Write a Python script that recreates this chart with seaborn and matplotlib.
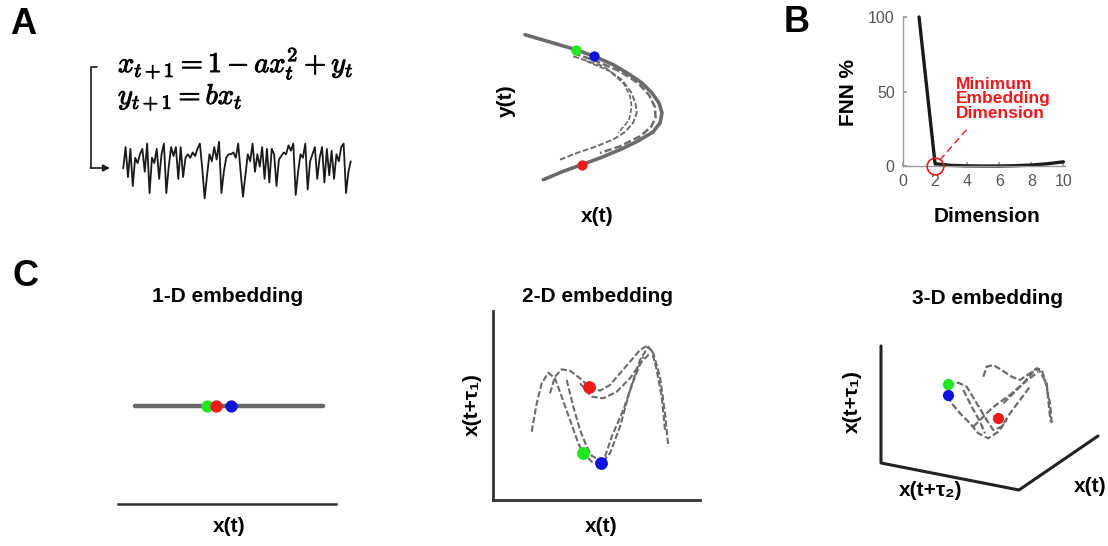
import numpy as np
import seaborn as sns
import matplotlib.pyplot as plt
import matplotlib.patheffects as pe

sns.set_theme(style="white")
plt.rcParams['font.family'] = ['Liberation Sans', 'DejaVu Sans']
plt.rcParams['mathtext.fontset'] = 'cm'
plt.rcParams['text.color'] = 'black'

W, H = 1108, 546
GRAY = '#6b6b6b'
GREEN = '#22e622'
BLUE = '#0b12dc'
RED = '#ec1a1a'

# ---- dados ----
# serie temporal x(t) do mapa de Henon (painel A)
serie_x = [0.07, 1.03, -0.32, 0.95, -0.72, 0.55, 0.31, 0.71, 0.95, -0.08, 1.19, -1.04,
           0.55, 0.31, 0.95, -0.40, 0.71, 1.19, -1.04, 0.15, 1.03, 0.63, 1.03, -0.40,
           1.03, -0.32, 0.55, 0.71, 0.55, 0.79, 0.63, 0.95, 1.19, 0.07, -1.28, -0.24,
           0.71, 0.39, 1.03, 0.47, 1.27, -1.04, -0.08, 0.55, 0.71, 0.71, 0.79, 0.55,
           1.19, -0.08, -1.20, -0.24, 0.71, 0.39, 1.19, -0.08, 0.71, 0.15, 1.03, -0.40,
           0.95, -0.56, 0.95, 0.71, -0.72, 0.47, 0.63, 0.79, 0.71, 1.11, 0.87, 1.19,
           -1.12, -0.08, 0.71, 0.55, 1.19, -0.88, 0.39, 0.71, 1.03, -0.40, 0.55, 1.03,
           -0.56, 0.95, -0.24, 0.87, -0.40, 0.71, 0.39, 1.03, 1.19, -1.04, -0.08, 0.39]

# atrator (painel A), unidades arbitrarias
atr_ext_x = [5, 33.3, 56, 74, 93.3, 110, 122, 132, 139, 142, 140, 133, 118, 100, 80, 61.7, 43.3, 23.3]
atr_ext_y = [158.3, 150, 143.3, 136.7, 128.3, 118.3, 110, 100, 90, 80, 70, 61, 52, 43.3, 35, 28.3, 21.7, 13.3]
atr_ext2_x = [53.3, 76.7, 100, 118, 129, 135, 135.5, 131, 120, 100, 80]
atr_ext2_y = [140, 131.7, 121.7, 110, 98, 86, 75, 66, 56.7, 46.7, 40]
atr_int_x = [53.3, 83.3, 101.7, 111, 115.5, 116.7, 113, 105, 94, 76.7, 56.7, 40]
atr_int_y = [136.7, 126.7, 113.3, 101, 90, 80, 70, 61, 54, 46.7, 40, 33.3]
atr_int2_x = [66.7, 90, 104, 110, 111.7, 109, 98.3]
atr_int2_y = [131.7, 121.7, 109, 97, 86, 73, 60]
atr_pts_x = [56, 74, 61.7]
atr_pts_y = [143.3, 136.7, 28.3]

# falsos vizinhos mais proximos (painel B)
dimensao = [1, 2, 3, 4, 5, 6, 7, 8, 9, 10]
fnn = [100, 1.5, 0.4, 0.1, 0.0, 0.0, 0.2, 0.6, 1.5, 2.8]
dim_minima = 2

# imersao 1-D
emb1_x = [-0.30, -0.18, 0.02]
linha1_x = [-1.28, 1.27]

# imersao 2-D
c2a_x = [11.7, 16.7, 21.7, 28.3, 35, 41.7, 50, 58.3, 63.3, 71.7, 81.7, 90, 100, 110, 120, 128.3, 133.3, 140, 145, 148.3]
c2a_y = [48.3, 76.7, 96.7, 107.3, 101.7, 83.3, 60, 36.7, 26.7, 18.3, 16.7, 26.7, 53.3, 90, 120, 133.3, 126.7, 103.3, 66.7, 33.3]
c2b_x = [30, 35, 41.7, 50, 60, 70, 80, 90, 100, 110, 120, 126.7, 131.7, 136.7, 141.7, 145]
c2b_y = [86.7, 103.3, 110.7, 109.3, 101.7, 92.7, 89.3, 95, 106.7, 118.3, 130, 134, 129.3, 110, 83.3, 50]
c2c_x = [60, 71.7, 83.3, 96.7, 110, 121.7, 130]
c2c_y = [96.7, 83.3, 81.7, 88.3, 101.7, 118.3, 126.7]
c2d_x = [46.7, 53.3, 60, 66.7, 72, 80]
c2d_y = [100, 73.3, 50, 33.3, 24, 20]
c2e_x = [85, 91.7, 103.3, 115, 123.3]
c2e_y = [23.3, 43.3, 70, 103.3, 123.3]
emb2_x = [69.3, 63.3, 81]
emb2_y = [92.7, 26.7, 17.3]

# imersao 3-D (projecao)
c3a_x = [123.3, 126.7, 133.3, 141.7, 151.7, 160, 170, 176.7, 181.7, 185, 190, 191.7]
c3a_y = [133.3, 143.3, 145, 140, 133.3, 130, 136.7, 141.7, 140, 130, 106.7, 86.7]
c3b_x = [143.3, 153.3, 163.3, 173.3, 178.3, 186.7, 189.3, 190.7]
c3b_y = [106.7, 116.7, 126.7, 138.3, 141, 126.7, 100, 88.3]
c3c_x = [87.7, 98.3, 106.7, 116.7, 126.7, 133.3, 141.7, 150, 160, 170]
c3c_y = [125, 127.3, 123.3, 106.7, 90, 80, 83.3, 96.7, 110, 123.3]
c3d_x = [87.7, 91.7, 100, 110, 118.3, 128.3, 138.3, 146.7]
c3d_y = [114.3, 106.7, 96.7, 86.7, 76.7, 71.7, 78.3, 90]
c3e_x = [103.3, 111.7, 120, 125]
c3e_y = [120, 103.3, 88.3, 76.7]
c3f_x = [113.3, 123.3, 131.7, 138.3, 150, 165, 178]
c3f_y = [83.3, 93.3, 101.7, 106.7, 115, 128, 138]
eixos3_x = [21, 21, 159, 238]
eixos3_y = [164, 47, 20, 74]
emb3_x = [87.7, 87.7, 137.7]
emb3_y = [125.7, 115, 91.7]


def eixo_px(fig, x0, y0, x1, y1):
    return fig.add_axes([x0 / W, 1 - y1 / H, (x1 - x0) / W, (y1 - y0) / H])


def linha(ax, x, y, lw=1.4, tracejada=True, cor=GRAY):
    ls = (0, (3, 1.2)) if tracejada else '-'
    sns.lineplot(x=x, y=y, ax=ax, sort=False, estimator=None, color=cor,
                 lw=lw, linestyle=ls, legend=False)


def pontos(ax, x, y, cs, s):
    for xi, yi, c in zip(x, y, cs):
        sns.scatterplot(x=[xi], y=[yi], ax=ax, color=c, s=s, linewidth=0,
                        zorder=5, clip_on=False, legend=False)


fig = plt.figure(figsize=(W / 100, H / 100), dpi=100)

# ---- A: serie temporal ----
ax_ts = eixo_px(fig, 122, 140, 352, 200)
sns.lineplot(x=np.arange(len(serie_x)), y=serie_x, ax=ax_ts, color='k', lw=1.3)
ax_ts.set_xlim(-0.5, len(serie_x) - 0.5)
ax_ts.set_ylim(-1.35, 1.35)
ax_ts.axis('off')

# ---- A: atrator ----
ax_at = eixo_px(fig, 520, 28, 670, 193)
linha(ax_at, atr_ext_x, atr_ext_y, lw=2.6, tracejada=False)
linha(ax_at, atr_ext2_x, atr_ext2_y, lw=1.8)
linha(ax_at, atr_int_x, atr_int_y, lw=1.4)
linha(ax_at, atr_int2_x, atr_int2_y, lw=1.2)
pontos(ax_at, atr_pts_x, atr_pts_y, [GREEN, BLUE, RED], 55)
ax_at.set_xlim(0, 150)
ax_at.set_ylim(0, 165)
ax_at.axis('off')

# ---- B: FNN ----
axB = eixo_px(fig, 903, 17, 1065, 166)
sns.lineplot(x=dimensao, y=fnn, ax=axB, color='k', lw=2.4, clip_on=False)
axB.plot([dim_minima], [0], marker='o', ms=12, mfc='none', mec=RED, mew=1.2,
         clip_on=False, zorder=6)
axB.plot([2.3, 4.05], [4, 25.5], color=RED, lw=1, linestyle=(0, (5, 3)))
axB.set_xlim(0, 10.1)
axB.set_ylim(0, 100)
axB.set_xticks([0, 2, 4, 6, 8, 10])
axB.set_yticks([0, 50, 100])
axB.tick_params(direction='in', length=3, color='#999', labelcolor='#555',
                labelsize=11.5, pad=6, bottom=True, left=True)
sns.despine(ax=axB)
for s in ['left', 'bottom']:
    axB.spines[s].set_color('#999')
    axB.spines[s].set_linewidth(1)
axB.set_xlabel('')
axB.set_ylabel('')
axB.set_facecolor('none')

# ---- C: 1-D ----
ax1 = eixo_px(fig, 118, 320, 336, 504)
sns.lineplot(x=linha1_x, y=[0, 0], ax=ax1, color='#666', lw=3.2)
pontos(ax1, emb1_x, [0, 0, 0], [GREEN, RED, BLUE], 78)
ax1.set_xlim(-1.51, 1.45)
ax1.set_ylim(-0.53, 0.47)
ax1.set_xticks([])
ax1.set_yticks([])
sns.despine(ax=ax1, left=True)
ax1.spines['bottom'].set_color('#333')
ax1.spines['bottom'].set_linewidth(1.8)
ax1.set_facecolor('none')

# ---- C: 2-D ----
ax2 = eixo_px(fig, 493, 311, 700, 500)
for cx, cy in [(c2a_x, c2a_y), (c2b_x, c2b_y), (c2c_x, c2c_y), (c2d_x, c2d_y), (c2e_x, c2e_y)]:
    linha(ax2, cx, cy, lw=1.5)
pontos(ax2, emb2_x, emb2_y, [RED, GREEN, BLUE], 85)
ax2.set_xlim(-27, 180)
ax2.set_ylim(-20, 169)
ax2.set_xticks([])
ax2.set_yticks([])
sns.despine(ax=ax2)
for s in ['left', 'bottom']:
    ax2.spines[s].set_color('#333')
    ax2.spines[s].set_linewidth(2)
ax2.set_facecolor('none')

# ---- C: 3-D ----
ax3 = eixo_px(fig, 860, 330, 1108, 510)
linha(ax3, eixos3_x, eixos3_y, lw=2.2, tracejada=False, cor='#222')
for cx, cy in [(c3a_x, c3a_y), (c3b_x, c3b_y), (c3c_x, c3c_y), (c3d_x, c3d_y),
               (c3e_x, c3e_y), (c3f_x, c3f_y)]:
    linha(ax3, cx, cy, lw=1.6)
pontos(ax3, emb3_x, emb3_y, [GREEN, BLUE, RED], 65)
ax3.set_xlim(0, 248)
ax3.set_ylim(0, 180)
ax3.axis('off')

# ---- textos e anotacoes ----
ov = fig.add_axes([0, 0, 1, 1])
ov.set_xlim(0, W)
ov.set_ylim(H, 0)
ov.axis('off')

for letra, (x, y) in {'A': (23, 25), 'B': (797, 23), 'C': (25, 276)}.items():
    ov.text(x, y, letra, fontsize=26, fontweight='bold', ha='center', va='center')

negrito = [pe.withStroke(linewidth=0.7, foreground='black')]
ov.text(118, 72, r'$x_{t+1} = 1 - ax_t^2 + y_t$', fontsize=20.5, ha='left',
        va='baseline', path_effects=negrito)
ov.text(118, 104, r'$y_{t+1} = bx_t$', fontsize=20.5, ha='left', va='baseline',
        path_effects=negrito)
ov.plot([97, 91, 91], [67, 67, 168], color='k', lw=1.2)
ov.annotate('', xy=(110, 168), xytext=(90.4, 168),
            arrowprops=dict(arrowstyle='-|>', lw=1.2, color='k', mutation_scale=10,
                            shrinkA=0, shrinkB=0))

rot = dict(fontsize=15, fontweight='bold', ha='center', va='center')
ov.text(506, 101, 'y(t)', rotation=90, **rot)
ov.text(597, 216, 'x(t)', **rot)
ov.text(848, 92, 'FNN %', rotation=90, **rot)
ov.text(987, 217, 'Dimension', **rot)
ov.text(956, 99, 'Minimum\nEmbedding\nDimension', color=RED, fontsize=12.5,
        fontweight='bold', ha='left', va='center', linespacing=0.95)

ov.text(228, 297, '1-D embedding', **rot)
ov.text(598, 296, '2-D embedding', **rot)
ov.text(988, 298, '3-D embedding', **rot)
ov.text(229, 526, 'x(t)', **rot)
ov.text(601, 527, 'x(t)', **rot)
ov.text(472, 405, 'x(t+τ₁)', rotation=90, **rot)
ov.text(852, 402, 'x(t+τ₁)', rotation=90, **rot)
ov.text(931, 490, 'x(t+τ₂)', **rot)
ov.text(1090, 486, 'x(t)', **rot)

fig.savefig('out.png', dpi=100)
